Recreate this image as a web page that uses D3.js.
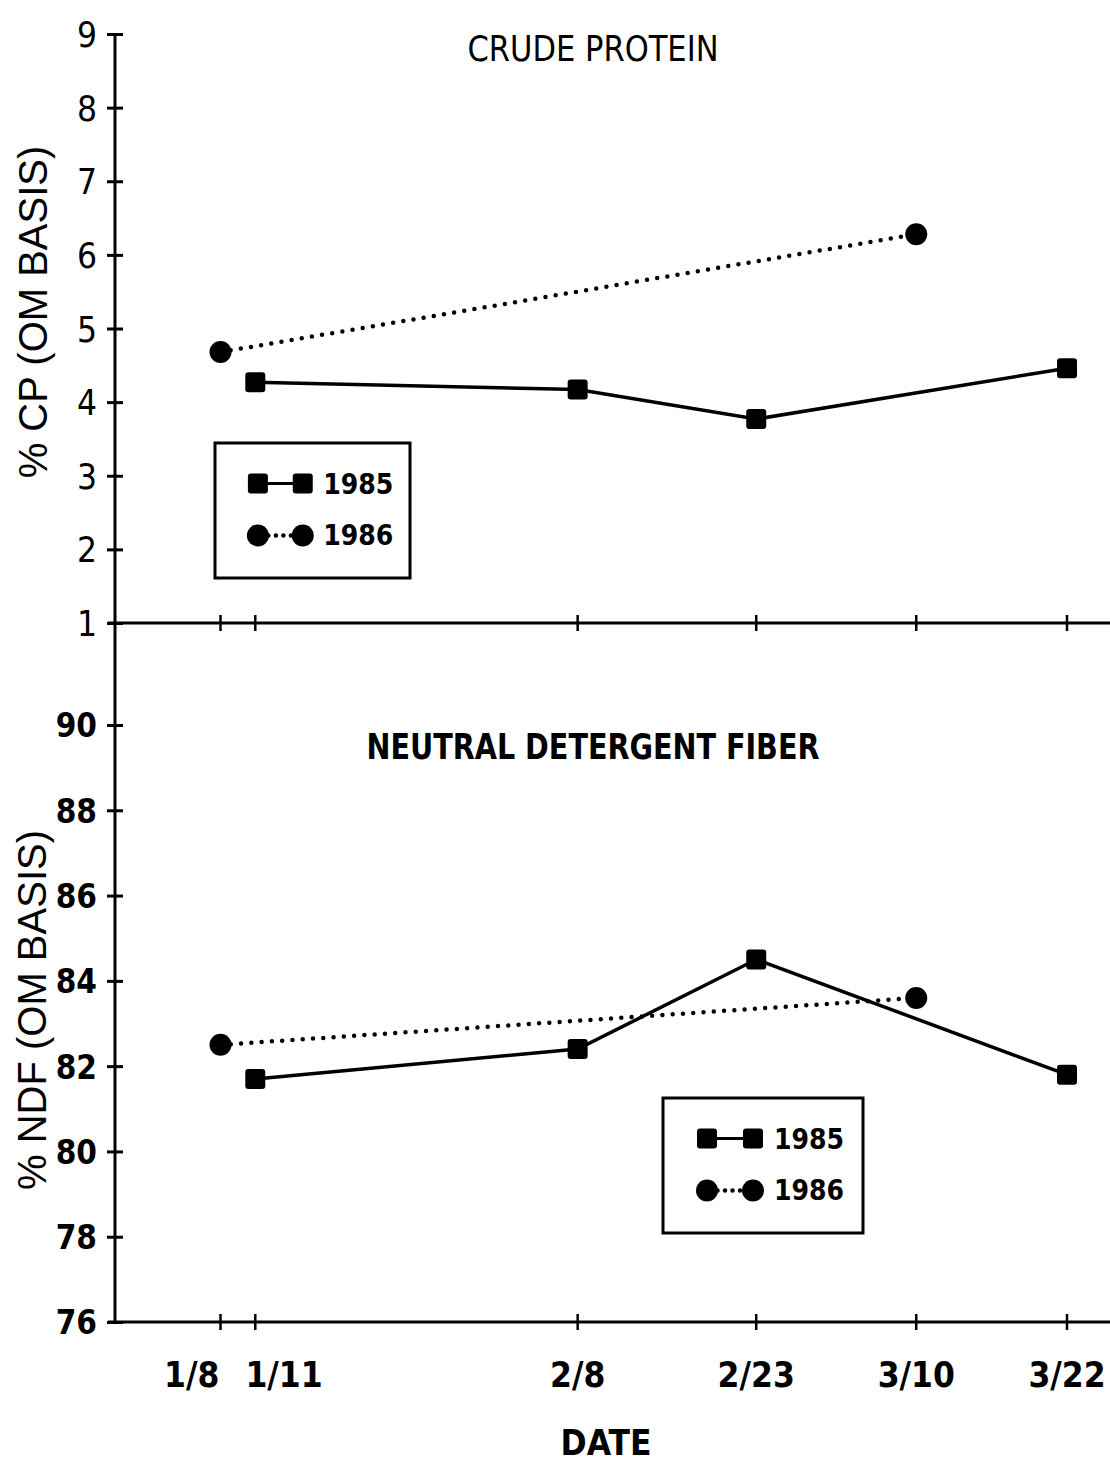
<!DOCTYPE html>
<html><head><meta charset="utf-8">
<script src="https://cdn.jsdelivr.net/npm/d3@7"></script>
<style>
body{margin:0;background:#fff;}
svg{display:block;}
text{fill:#000;}
</style></head>
<body>
<svg id="c" width="1110" height="1465"></svg>
<script>
// ---- data ----
const dateLabels = ["1/8","1/11","2/8","2/23","3/10","3/22"];
const dateDays   = [8, 11, 38.8, 54.2, 68, 81];   // position along the date axis (day of year)
const series = ["1985","1986"];
const cp1985Dates = ["1/11","2/8","2/23","3/22"];
const cp1985 = [4.27, 4.17, 3.77, 4.46];
const cp1986Dates = ["1/8","3/10"];
const cp1986 = [4.68, 6.28];
const ndf1985Dates = ["1/11","2/8","2/23","3/22"];
const ndf1985 = [81.7, 82.4, 84.5, 81.8];
const ndf1986Dates = ["1/8","3/10"];
const ndf1986 = [82.5, 83.6];
const cpTicks = [1,2,3,4,5,6,7,8,9];
const ndfTicks = [76,78,80,82,84,86,88,90];

// ---- layout ----
const svg = d3.select("#c");
const FN = "'Liberation Sans Narrow','DejaVu Sans Condensed','Arial Narrow',sans-serif";
const FW = "'Liberation Sans','Arial',sans-serif";
const x0 = 115, xEnd = 1110;
const dayOf = d => dateDays[dateLabels.indexOf(d)];
const x = d3.scaleLinear().domain([8, 81]).range([220.5, 1067]);
const yTop = d3.scaleLinear().domain([1, 9]).range([623, 34]);
const yBot = d3.scaleLinear().domain([76, 90]).range([1322, 725]);

// vertical axis line (continuous)
svg.append("line").attr("x1", x0).attr("x2", x0).attr("y1", yTop(9)).attr("y2", yBot(76))
  .attr("stroke", "#000").attr("stroke-width", 3);

function yAxis(scale, ticks, weight, size) {
  const g = svg.append("g").attr("transform", `translate(${x0},0)`)
    .call(d3.axisLeft(scale).tickValues(ticks).tickSize(0).tickPadding(18));
  g.select(".domain").remove();
  g.selectAll(".tick line").remove();
  g.selectAll(".tick").append("line").attr("x1", -8).attr("x2", 8)
    .attr("stroke", "#000").attr("stroke-width", 3);
  g.selectAll(".tick text").attr("font-family", FN).attr("font-size", size)
    .attr("font-weight", weight).attr("dy", "0.36em");
}
yAxis(yTop, cpTicks, "normal", 35);
yAxis(yBot, ndfTicks, "bold", 33);

function xAxis(yPos, labels) {
  svg.append("line").attr("x1", 108).attr("x2", xEnd).attr("y1", yPos).attr("y2", yPos)
    .attr("stroke", "#000").attr("stroke-width", 3);
  const g = svg.append("g");
  g.selectAll("line").data(dateLabels).join("line")
    .attr("x1", d => x(dayOf(d))).attr("x2", d => x(dayOf(d)))
    .attr("y1", yPos - 8).attr("y2", yPos + 8).attr("stroke", "#000").attr("stroke-width", 2.5);
  if (labels) {
    const t = g.selectAll("text").data(dateLabels).join("text")
      .attr("x", d => x(dayOf(d))).attr("y", yPos + 65)
      .attr("text-anchor", "middle").attr("font-family", FN)
      .attr("font-weight", "bold").attr("font-size", 35).text(d => d);
    // resolve overlapping neighbours by pushing them apart
    const nodes = t.nodes();
    for (let i = 0; i < nodes.length - 1; i++) {
      const a = nodes[i].getBBox(), b = nodes[i + 1].getBBox();
      const gap = 26;
      const overlap = a.x + a.width + gap - b.x;
      if (overlap > 0) {
        d3.select(nodes[i]).attr("x", +nodes[i].getAttribute("x") - overlap / 2);
        d3.select(nodes[i + 1]).attr("x", +nodes[i + 1].getAttribute("x") + overlap / 2);
      }
    }
  }
}
xAxis(yTop(1), false);
xAxis(yBot(76), true);

// ---- series drawing ----
function drawSolid(dates, vals, y) {
  const pts = dates.map((d, i) => [x(dayOf(d)), y(vals[i])]);
  svg.append("path").attr("d", d3.line()(pts)).attr("fill", "none")
    .attr("stroke", "#000").attr("stroke-width", 3.5);
  svg.selectAll(null).data(pts).join("rect")
    .attr("x", p => p[0] - 10).attr("y", p => p[1] - 10).attr("width", 20).attr("height", 20)
    .attr("rx", 3).attr("fill", "#000");
}
function drawDotted(dates, vals, y) {
  const pts = dates.map((d, i) => [x(dayOf(d)), y(vals[i])]);
  svg.append("path").attr("d", d3.line()(pts)).attr("fill", "none")
    .attr("stroke", "#000").attr("stroke-width", 4.5).attr("stroke-linecap", "round")
    .attr("stroke-dasharray", "0 10.3");
  svg.selectAll(null).data(pts).join("circle")
    .attr("cx", p => p[0]).attr("cy", p => p[1]).attr("r", 11).attr("fill", "#000");
}
drawDotted(cp1986Dates, cp1986, yTop);
drawSolid(cp1985Dates, cp1985, yTop);
drawDotted(ndf1986Dates, ndf1986, yBot);
drawSolid(ndf1985Dates, ndf1985, yBot);

// ---- legends ----
function legend(bx, by, bw, bh) {
  const g = svg.append("g").attr("transform", `translate(${bx},${by})`);
  g.append("rect").attr("width", bw).attr("height", bh).attr("fill", "#fff")
    .attr("stroke", "#000").attr("stroke-width", 3);
  const rows = [bh * 0.30, bh * 0.685];
  const mx1 = bw * 0.22, mx2 = bw * 0.45;
  series.forEach((s, i) => {
    const ry = rows[i];
    if (i === 0) {
      g.append("line").attr("x1", mx1).attr("x2", mx2).attr("y1", ry).attr("y2", ry)
        .attr("stroke", "#000").attr("stroke-width", 3);
      [mx1, mx2].forEach(cx => g.append("rect").attr("x", cx - 10).attr("y", ry - 10)
        .attr("width", 20).attr("height", 20).attr("rx", 3).attr("fill", "#000"));
    } else {
      g.append("line").attr("x1", mx1).attr("x2", mx2).attr("y1", ry).attr("y2", ry)
        .attr("stroke", "#000").attr("stroke-width", 4.5).attr("stroke-linecap", "round")
        .attr("stroke-dasharray", "0 7.5").attr("stroke-dashoffset", -3);
      [mx1, mx2].forEach(cx => g.append("circle").attr("cx", cx).attr("cy", ry).attr("r", 11).attr("fill", "#000"));
    }
    g.append("text").attr("x", bw * 0.555).attr("y", ry + 10).attr("font-family", FN)
      .attr("font-weight", "bold").attr("font-size", 28).text(s);
  });
}
legend(215, 443, 195, 135);
legend(663, 1098, 200, 135);

// ---- titles ----
svg.append("text").attr("x", 593).attr("y", 61).attr("text-anchor", "middle")
  .attr("font-family", FN).attr("font-size", 36).attr("textLength", 251)
  .attr("lengthAdjust", "spacingAndGlyphs").text("CRUDE PROTEIN");
svg.append("text").attr("x", 593).attr("y", 759).attr("text-anchor", "middle")
  .attr("font-family", FN).attr("font-weight", "bold").attr("font-size", 36).attr("textLength", 453)
  .attr("lengthAdjust", "spacingAndGlyphs").text("NEUTRAL DETERGENT FIBER");
svg.append("text").attr("x", 606).attr("y", 1455).attr("text-anchor", "middle")
  .attr("font-family", FN).attr("font-weight", "bold").attr("font-size", 35).text("DATE");

svg.append("text").attr("transform", "translate(47,312) rotate(-90)").attr("text-anchor", "middle")
  .attr("font-family", FW).attr("font-size", 40).text("% CP (OM BASIS)");
svg.append("text").attr("transform", "translate(46,1010) rotate(-90)").attr("text-anchor", "middle")
  .attr("font-family", FW).attr("font-size", 40).text("% NDF (OM BASIS)");
</script>
</body></html>
